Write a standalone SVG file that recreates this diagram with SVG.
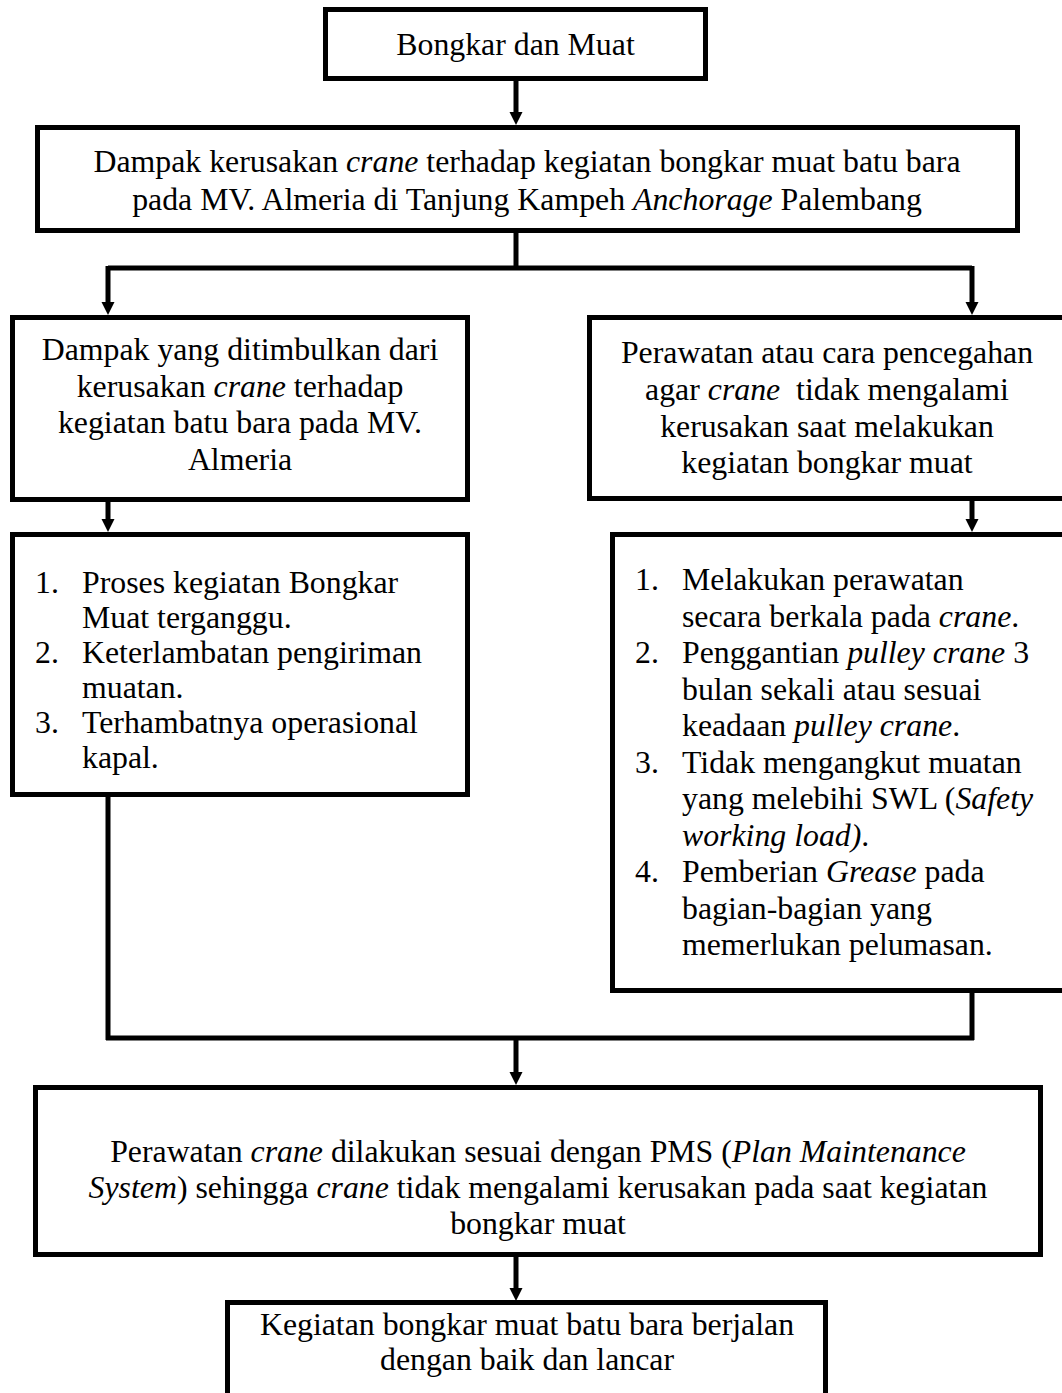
<svg xmlns="http://www.w3.org/2000/svg" width="1062" height="1393" viewBox="0 0 1062 1393">
<style>
.box{fill:#fff;stroke:#000;stroke-width:5}
.ln{fill:none;stroke:#000;stroke-width:5}
text{font-family:"Liberation Serif","Times New Roman",serif;font-size:31.8px;fill:#000;white-space:pre}
.c{text-anchor:middle}
.i{font-style:italic}
</style>
<defs>
<marker id="ah" markerUnits="userSpaceOnUse" markerWidth="14" markerHeight="14" viewBox="0 0 14 14" refX="0" refY="6.5" orient="auto">
<path d="M0,0 L13,6.5 L0,13 Z" fill="#000"/>
</marker>
</defs>
<rect width="1062" height="1393" fill="#fff"/>
<g id="connectors">
<path class="ln" d="M516,81 V112" marker-end="url(#ah)"/>
<path class="ln" d="M516,233 V268"/>
<path class="ln" d="M108,268 H972"/>
<path class="ln" d="M108,266 V302" marker-end="url(#ah)"/>
<path class="ln" d="M972,266 V302" marker-end="url(#ah)"/>
<path class="ln" d="M108,502 V519" marker-end="url(#ah)"/>
<path class="ln" d="M972,501 V519" marker-end="url(#ah)"/>
<path class="ln" d="M108,797 V1040"/>
<path class="ln" d="M972,993 V1040"/>
<path class="ln" d="M106,1038 H974"/>
<path class="ln" d="M516,1038 V1072" marker-end="url(#ah)"/>
<path class="ln" d="M516,1257 V1288" marker-end="url(#ah)"/>
</g>
<g id="node-bongkar">
<rect class="box" x="325.5" y="9.5" width="380" height="69"/>
<text class="c" x="515.5" y="55">Bongkar dan Muat</text>
</g>
<g id="node-dampak">
<rect class="box" x="37.5" y="127.5" width="980" height="103"/>
<text class="c" x="527" y="172">Dampak kerusakan <tspan class="i">crane</tspan> terhadap kegiatan bongkar muat batu bara</text>
<text class="c" x="527" y="210">pada MV. Almeria di Tanjung Kampeh <tspan class="i">Anchorage</tspan> Palembang</text>
</g>
<g id="node-dampak-ditimbulkan">
<rect class="box" x="12.5" y="317.5" width="455" height="182"/>
<text class="c" x="240" y="360">Dampak yang ditimbulkan dari</text>
<text class="c" x="240" y="396.5">kerusakan <tspan class="i">crane</tspan> terhadap</text>
<text class="c" x="240" y="433">kegiatan batu bara pada MV.</text>
<text class="c" x="240" y="469.5">Almeria</text>
</g>
<g id="node-perawatan">
<rect class="box" x="589.5" y="317.5" width="480" height="181"/>
<text class="c" x="827" y="363">Perawatan atau cara pencegahan</text>
<text class="c" x="827" y="400">agar <tspan class="i">crane</tspan>  tidak mengalami</text>
<text class="c" x="827" y="437">kerusakan saat melakukan</text>
<text class="c" x="827" y="473">kegiatan bongkar muat</text>
</g>
<g id="node-list-dampak">
<rect class="box" x="12.5" y="534.5" width="455" height="260"/>
<text x="35" y="593">1.</text>
<text x="82" y="593">Proses kegiatan Bongkar</text>
<text x="82" y="628">Muat terganggu.</text>
<text x="35" y="663">2.</text>
<text x="82" y="663">Keterlambatan pengiriman</text>
<text x="82" y="698">muatan.</text>
<text x="35" y="733">3.</text>
<text x="82" y="733">Terhambatnya operasional</text>
<text x="82" y="768">kapal.</text>
</g>
<g id="node-list-perawatan">
<rect class="box" x="612.5" y="534.5" width="460" height="456"/>
<text x="635" y="590">1.</text>
<text x="682" y="590">Melakukan perawatan</text>
<text x="682" y="626.5">secara berkala pada <tspan class="i">crane</tspan>.</text>
<text x="635" y="663">2.</text>
<text x="682" y="663">Penggantian <tspan class="i">pulley crane</tspan> 3</text>
<text x="682" y="699.5">bulan sekali atau sesuai</text>
<text x="682" y="736">keadaan <tspan class="i">pulley crane</tspan>.</text>
<text x="635" y="772.5">3.</text>
<text x="682" y="772.5">Tidak mengangkut muatan</text>
<text x="682" y="809">yang melebihi SWL (<tspan class="i">Safety</tspan></text>
<text x="682" y="845.5"><tspan class="i">working load)</tspan>.</text>
<text x="635" y="882">4.</text>
<text x="682" y="882">Pemberian <tspan class="i">Grease</tspan> pada</text>
<text x="682" y="918.5">bagian-bagian yang</text>
<text x="682" y="955">memerlukan pelumasan.</text>
</g>
<g id="node-pms">
<rect class="box" x="35.5" y="1087.5" width="1005" height="167"/>
<text class="c" x="538" y="1162">Perawatan <tspan class="i">crane</tspan> dilakukan sesuai dengan PMS (<tspan class="i">Plan Maintenance</tspan></text>
<text class="c" x="538" y="1198"><tspan class="i">System</tspan>) sehingga <tspan class="i">crane</tspan> tidak mengalami kerusakan pada saat kegiatan</text>
<text class="c" x="538" y="1234">bongkar muat</text>
</g>
<g id="node-hasil">
<rect class="box" x="227.5" y="1302.5" width="598" height="120"/>
<text class="c" x="527" y="1335">Kegiatan bongkar muat batu bara berjalan</text>
<text class="c" x="527" y="1370">dengan baik dan lancar</text>
</g>
</svg>
